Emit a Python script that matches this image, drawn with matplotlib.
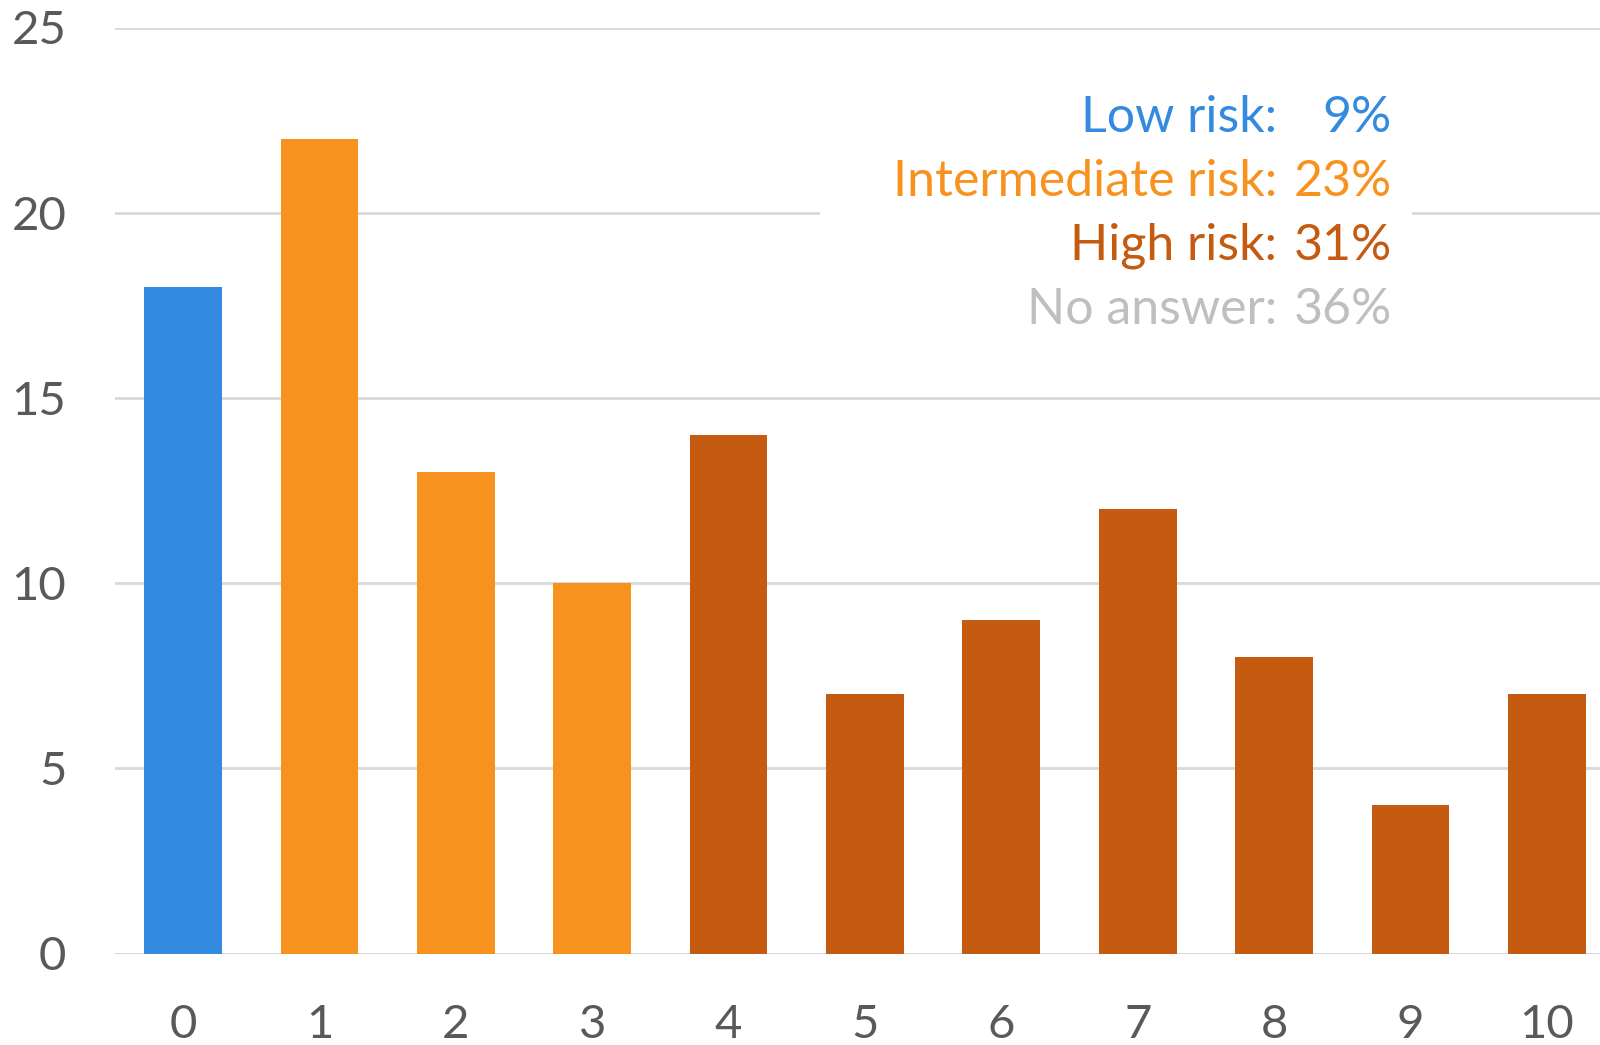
import matplotlib
matplotlib.use("Agg")
import matplotlib.pyplot as plt
from matplotlib.patches import Rectangle

categories = ["0", "1", "2", "3", "4", "5", "6", "7", "8", "9", "10"]
values = [18, 22, 13, 10, 14, 7, 9, 12, 8, 4, 7]
groups = ["low", "mid", "mid", "mid", "high", "high", "high", "high", "high", "high", "high"]
legend_labels = ["Low risk:", "Intermediate risk:", "High risk:", "No answer:"]
legend_pcts = ["9%", "23%", "31%", "36%"]
legend_keys = ["low", "mid", "high", "none"]

colors = {"low": "#348ADF", "mid": "#F7921E", "high": "#C55A11", "none": "#BFBFBF"}

plt.rcParams['font.family'] = ['Lato', 'DejaVu Sans']

W, H = 1600, 1045
fig = plt.figure(figsize=(W / 100, H / 100), dpi=100)
left, right = 115, 1615
bottom, top = 953.5, 27.5
ax = fig.add_axes([left / W, 1 - bottom / H, (right - left) / W, (bottom - top) / H])

x = list(range(len(categories)))
ax.bar(x, values, width=0.57, color=[colors[g] for g in groups], zorder=3)
ax.set_xlim(-0.5, 10.5)
ax.set_ylim(0, 25)
ax.set_yticks([0, 5, 10, 15, 20, 25])
ax.set_xticks(x)
ax.set_xticklabels(categories)
ax.yaxis.grid(True, color="#D9D9D9", linewidth=2)
ax.set_axisbelow(True)
for s in ax.spines.values():
    s.set_visible(False)
ax.tick_params(axis="both", length=0, labelsize=34, labelcolor="#595959")
ax.tick_params(axis="y", pad=35)
ax.tick_params(axis="x", pad=36)
ax.axhline(0, color="#D9D9D9", linewidth=2, zorder=2)

# white background behind the legend text
fig.patches.append(Rectangle((820 / W, 1 - 340 / H), (1412 - 820) / W, (340 - 80) / H,
                             transform=fig.transFigure, facecolor="white",
                             edgecolor="none", zorder=1))

ys = [118, 182, 246, 310]
for lab, pct, key, y in zip(legend_labels, legend_pcts, legend_keys, ys):
    fig.text(1277 / W, 1 - y / H, lab, ha="right", va="center", fontsize=36,
             color=colors[key])
    fig.text(1392 / W, 1 - y / H, pct, ha="right", va="center", fontsize=36,
             color=colors[key])

fig.savefig("out.png", dpi=100)
